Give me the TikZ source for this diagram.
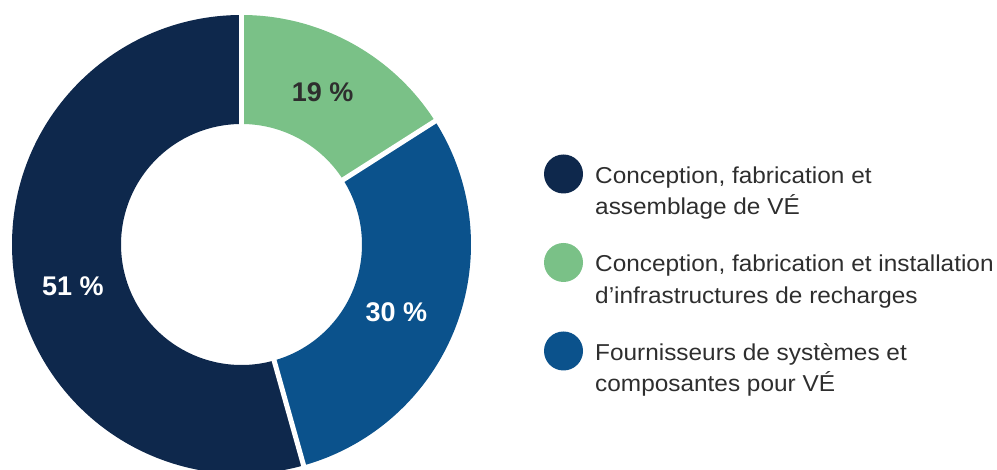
\documentclass[tikz,border=0pt]{standalone}
\usepackage{fontspec}
\setmainfont{Liberation Sans}
\newfontfamily\legfont[FakeStretch=1.06]{Liberation Sans}
\definecolor{navy}{HTML}{0E284C}
\definecolor{leaf}{HTML}{7AC187}
\definecolor{sea}{HTML}{0B528C}
\definecolor{ink}{HTML}{2E2E2E}
\tikzset{
  sector/.style={draw=none},
  gapline/.style={draw=white, line width=5pt},
  pct/.style={font=\fontsize{27}{27}\selectfont\bfseries, inner sep=0pt},
  dot/.style={circle, minimum size=39pt, inner sep=0pt, draw=none},
  legtext/.style={font=\legfont\fontsize{23}{31.7}\selectfont, text=ink, align=left, anchor=base west, inner sep=0pt}
}
\begin{document}
\begin{tikzpicture}[x=1pt,y=1pt]
\useasboundingbox (0,0) rectangle (997,470);
\begin{scope}[shift={(241.5,225.5)}]
  \def\R{229.5}
  \def\r{120.5}
  \fill[leaf, sector] (32.5:\R) arc[start angle=32.5, end angle=90, radius=\R] -- (90:\r) arc[start angle=90, end angle=32.5, radius=\r] -- cycle;
  \fill[sea, sector] (-74.3:\R) arc[start angle=-74.3, end angle=32.5, radius=\R] -- (32.5:\r) arc[start angle=32.5, end angle=-74.3, radius=\r] -- cycle;
  \fill[navy, sector] (90:\R) arc[start angle=90, end angle=285.7, radius=\R] -- (285.7:\r) arc[start angle=285.7, end angle=90, radius=\r] -- cycle;
  \coordinate (g1) at (90:118);
  \coordinate (g2) at (90:232);
  \coordinate (b1) at (32.5:118);
  \coordinate (b2) at (32.5:232);
  \coordinate (n1) at (-74.3:118);
  \coordinate (n2) at (-74.3:232);
  \draw[gapline] (g1) -- (g2);
  \draw[gapline] (b1) -- (b2);
  \draw[gapline] (n1) -- (n2);
\end{scope}
\node[pct, text=ink] (p19) at (322.7,377.5) {19 \%};
\node[pct, text=white] (p51) at (73,184) {51 \%};
\node[pct, text=white] (p30) at (396.5,157.5) {30 \%};
\node[dot, fill=navy] (d1) at (563.5,296) {};
\node[dot, fill=leaf] (d2) at (563.5,207.5) {};
\node[dot, fill=sea] (d3) at (563.5,119) {};
\node[legtext] (t1) at (595,255) {Conception, fabrication et\\assemblage de VÉ};
\node[legtext] (t2) at (595,166.5) {Conception, fabrication et installation\\d’infrastructures de recharges};
\node[legtext] (t3) at (595,78) {Fournisseurs de systèmes et\\composantes pour VÉ};
\end{tikzpicture}
\end{document}
